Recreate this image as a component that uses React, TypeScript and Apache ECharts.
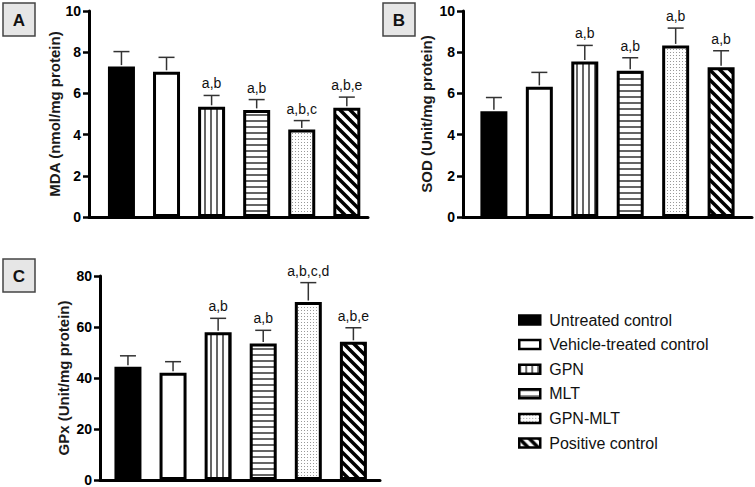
import React, { useEffect, useRef } from 'react';
import * as echarts from 'echarts';

const groups = ['Untreated control', 'Vehicle-treated control', 'GPN', 'MLT', 'GPN-MLT', 'Positive control'];

const mdaMean = [7.3, 7.05, 5.35, 5.2, 4.25, 5.3];
const mdaSD = [0.73, 0.7, 0.55, 0.5, 0.43, 0.52];
const mdaSig = ['', '', 'a,b', 'a,b', 'a,b,c', 'a,b,e'];

const sodMean = [5.13, 6.32, 7.55, 7.1, 8.33, 7.27];
const sodSD = [0.67, 0.7, 0.78, 0.63, 0.84, 0.8];
const sodSig = ['', '', 'a,b', 'a,b', 'a,b', 'a,b'];

const gpxMean = [44.4, 42.1, 57.9, 53.5, 69.8, 54.2];
const gpxSD = [4.3, 4.3, 5.5, 5.2, 7.6, 5.5];
const gpxSig = ['', '', 'a,b', 'a,b', 'a,b,c,d', 'a,b,e'];

const panelLetters = ['A', 'B', 'C'];
const yNames = ['MDA (nmol/mg protein)', 'SOD (Unit/mg protein)', 'GPx (Unit/mg protein)'];
const yMax = [10, 10, 80];
const yInterval = [2, 2, 20];

const FONT = "'Liberation Sans', Arial, sans-serif";

function makeTile(w: number, h: number, draw: (ctx: CanvasRenderingContext2D) => void) {
  const c = document.createElement('canvas');
  c.width = w;
  c.height = h;
  const ctx = c.getContext('2d')!;
  ctx.fillStyle = '#fff';
  ctx.fillRect(0, 0, w, h);
  draw(ctx);
  return { image: c, repeat: 'repeat', imageWidth: w, imageHeight: h } as any;
}

function makeFills(): any[] {
  const vertical = makeTile(6, 6, (ctx) => {
    ctx.fillStyle = '#666';
    ctx.fillRect(0, 0, 2, 6);
  });
  const horizontal = makeTile(6, 6, (ctx) => {
    ctx.fillStyle = '#666';
    ctx.fillRect(0, 0, 6, 2);
  });
  const dots = makeTile(3, 3, (ctx) => {
    ctx.fillStyle = '#999';
    ctx.fillRect(1, 1, 1, 1);
  });
  const diag = makeTile(10, 10, (ctx) => {
    ctx.strokeStyle = '#000';
    ctx.lineWidth = 3.5;
    for (const k of [-10, 0, 10]) {
      ctx.beginPath();
      ctx.moveTo(k - 2, -2);
      ctx.lineTo(k + 12, 12);
      ctx.stroke();
    }
  });
  return ['#000', '#fff', vertical, horizontal, dots, diag];
}

export default function App() {
  const ref = useRef<HTMLDivElement>(null);

  useEffect(() => {
    if (!ref.current) return;
    const chart = echarts.init(ref.current, undefined, { renderer: 'svg' });
    const fills = makeFills();

    const means = [mdaMean, sodMean, gpxMean];
    const sds = [mdaSD, sodSD, gpxSD];
    const sigs = [mdaSig, sodSig, gpxSig];

    const grids = [
      { left: 89, top: 11, width: 279, height: 206 },
      { left: 463, top: 11, width: 289, height: 206 },
      { left: 100, top: 276, width: 280, height: 204 },
    ];
    const xRanges = [
      [-0.72, 5.47],
      [-0.68, 5.68],
      [-0.62, 5.59],
    ];
    const nameGaps = [26, 29, 29];

    const xAxis = grids.map((_, p) => ({
      gridIndex: p,
      type: 'value',
      min: xRanges[p][0],
      max: xRanges[p][1],
      axisLine: { show: true, onZero: false, lineStyle: { color: '#000', width: 3 } },
      axisTick: { show: false },
      axisLabel: { show: false },
      splitLine: { show: false },
    }));

    const yAxis = grids.map((_, p) => ({
      gridIndex: p,
      type: 'value',
      min: 0,
      max: yMax[p],
      interval: yInterval[p],
      name: yNames[p],
      nameLocation: 'middle',
      nameGap: nameGaps[p],
      nameTextStyle: { fontSize: 15, fontWeight: 'bold', color: '#1a1a1a', fontFamily: FONT },
      axisLine: { show: true, onZero: false, lineStyle: { color: '#000', width: 3 } },
      axisTick: { show: true, length: 6, lineStyle: { color: '#000', width: 2.5 } },
      axisLabel: { fontSize: 14, fontWeight: 'bold', color: '#000', margin: 8, fontFamily: FONT },
      splitLine: { show: false },
    }));

    const series: any[] = [];
    grids.forEach((_, p) => {
      groups.forEach((g, i) => {
        series.push({
          type: 'bar',
          name: g,
          xAxisIndex: p,
          yAxisIndex: p,
          data: [[i, means[p][i]]],
          barWidth: 27,
          barGap: '-100%',
          itemStyle: { color: fills[i], borderColor: '#000', borderWidth: 3 },
          z: 2,
        });
      });
      const sig = sigs[p];
      series.push({
        type: 'custom',
        xAxisIndex: p,
        yAxisIndex: p,
        z: 3,
        data: means[p].map((m, i) => [i, m, sds[p][i]]),
        renderItem: (params: any, api: any) => {
          const i = params.dataIndex;
          const x = api.value(0);
          const m = api.value(1);
          const s = api.value(2);
          const p0 = api.coord([x, m]);
          const p1 = api.coord([x, m + s]);
          const children: any[] = [
            { type: 'line', shape: { x1: p0[0], y1: p0[1] - 1.5, x2: p1[0], y2: p1[1] }, style: { stroke: '#333', lineWidth: 1.5 } },
            { type: 'line', shape: { x1: p1[0] - 8, y1: p1[1], x2: p1[0] + 8, y2: p1[1] }, style: { stroke: '#333', lineWidth: 1.5 } },
          ];
          if (sig[i]) {
            children.push({
              type: 'text',
              x: p1[0],
              y: p1[1] - 12,
              style: { text: sig[i], align: 'center', verticalAlign: 'middle', fontSize: 14, fill: '#111', fontFamily: FONT },
            });
          }
          return { type: 'group', children };
        },
      });
    });

    const boxPos = [
      [3, 3],
      [383, 3],
      [3, 259],
    ];
    const graphic = boxPos.map((b, k) => ({
      type: 'group',
      x: b[0],
      y: b[1],
      children: [
        { type: 'rect', shape: { x: 0, y: 0, width: 32, height: 33 }, style: { fill: '#e6e6e6', stroke: '#444', lineWidth: 1.5 } },
        { type: 'text', x: 16, y: 17, style: { text: panelLetters[k], align: 'center', verticalAlign: 'middle', fontSize: 17, fontWeight: 'bold', fill: '#111', fontFamily: FONT } },
      ],
    }));

    chart.setOption({
      animation: false,
      backgroundColor: '#fff',
      grid: grids,
      xAxis,
      yAxis,
      series,
      graphic,
      legend: {
        data: groups,
        orient: 'vertical',
        left: 513,
        top: 307,
        icon: 'rect',
        itemWidth: 21,
        itemHeight: 9,
        itemGap: 8.6,
        selectedMode: false,
        itemStyle: { borderWidth: 2.5, borderColor: '#000' },
        textStyle: { fontSize: 16, color: '#111', fontFamily: FONT, padding: [0, 0, 0, 4] },
      },
    });

    return () => chart.dispose();
  }, []);

  return <div ref={ref} style={{ position: 'fixed', left: 0, top: 0, width: 755, height: 487 }} />;
}
